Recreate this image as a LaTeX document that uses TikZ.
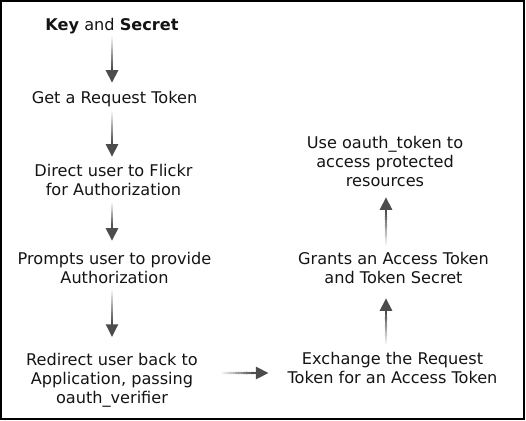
\documentclass[tikz,border=0pt]{standalone}
\usepackage{fontspec}
\setmainfont{DejaVu Sans}
\usetikzlibrary{arrows.meta,calc}
\newcommand\ls{\rule[-0.24em]{0pt}{1.02em}}
\tikzset{
  txt/.style={inner sep=0pt, outer sep=0pt, align=center, text=black!92,
    font=\fontsize{12.1}{14.25}\selectfont},
  shaftseg/.style={line width=1.7pt, line cap=butt},
  headtip/.style={draw=black!70, line width=1.7pt,
    -{Triangle[length=9.5pt,width=9pt]}},
  frame/.style={draw=black, line width=1.5pt}
}
\newcommand\flowarrow[2]{%
  \path #1 coordinate (fa-s);
  \path #2 coordinate (fa-e);
  \path ($(fa-e)!11pt!(fa-s)$) coordinate (fa-m);
  \foreach \k in {0,...,11}{%
    \pgfmathsetmacro\ta{\k/12}%
    \pgfmathsetmacro\tb{min(1,(\k+1.4)/12)}%
    \pgfmathtruncatemacro\cc{6+62*\k/11}%
    \draw[shaftseg,draw=black!\cc] ($(fa-s)!\ta!(fa-m)$) -- ($(fa-s)!\tb!(fa-m)$);
  }%
  \draw[headtip] (fa-m) -- (fa-e);
}
\begin{document}
\begin{tikzpicture}[x=0.75pt,y=-0.75pt]
\useasboundingbox (0,0) rectangle (526,421);
\draw[frame] (1,1) rectangle (524,419);

\node[txt] (key) at (112,26.25) {\textbf{Key} and \textbf{Secret}\ls};
\node[txt] (req) at (114.5,98.75) {Get a Request Token\ls};
\node[txt] (direct) at (113.5,181.75) {Direct user to Flickr\ls\\for Authorization\ls};
\node[txt] (prompt) at (114.5,269.75) {Prompts user to provide\ls\\Authorization\ls};
\node[txt] (redirect) at (112,380.25) {Redirect user back to\ls\\Application, passing\ls\\oauth\_verifier\ls};
\node[txt] (exchange) at (392.5,369.25) {Exchange the Request\ls\\Token for an Access Token\ls};
\node[txt] (grants) at (393.5,269.75) {Grants an Access Token\ls\\and Token Secret\ls};
\node[txt] (use) at (385,162.75) {Use oauth\_token to\ls\\access protected\ls\\resources\ls};

\coordinate (colL) at (112,0);
\coordinate (colR) at (386,0);
\coordinate (rowH) at (0,373);

\flowarrow{($(key.south -| colL)+(0,2.7)$)}{($(req.north -| colL)+(0,-7.7)$)}
\flowarrow{($(req.south -| colL)+(0,5.2)$)}{($(direct.north -| colL)+(0,-7.2)$)}
\flowarrow{($(direct.south -| colL)+(0,3.7)$)}{($(prompt.north -| colL)+(0,-11.2)$)}
\flowarrow{($(prompt.south -| colL)+(0,2.7)$)}{($(redirect.north -| colL)+(0,-16)$)}
\flowarrow{($(redirect.east |- rowH)+(24,0)$)}{($(exchange.west |- rowH)+(-19,0)$)}
\flowarrow{($(exchange.north -| colR)+(0,-7.7)$)}{($(grants.south -| colR)+(0,10.7)$)}
\flowarrow{($(grants.north -| colR)+(0,-7.2)$)}{($(use.south -| colR)+(0,7.2)$)}
\end{tikzpicture}
\end{document}
